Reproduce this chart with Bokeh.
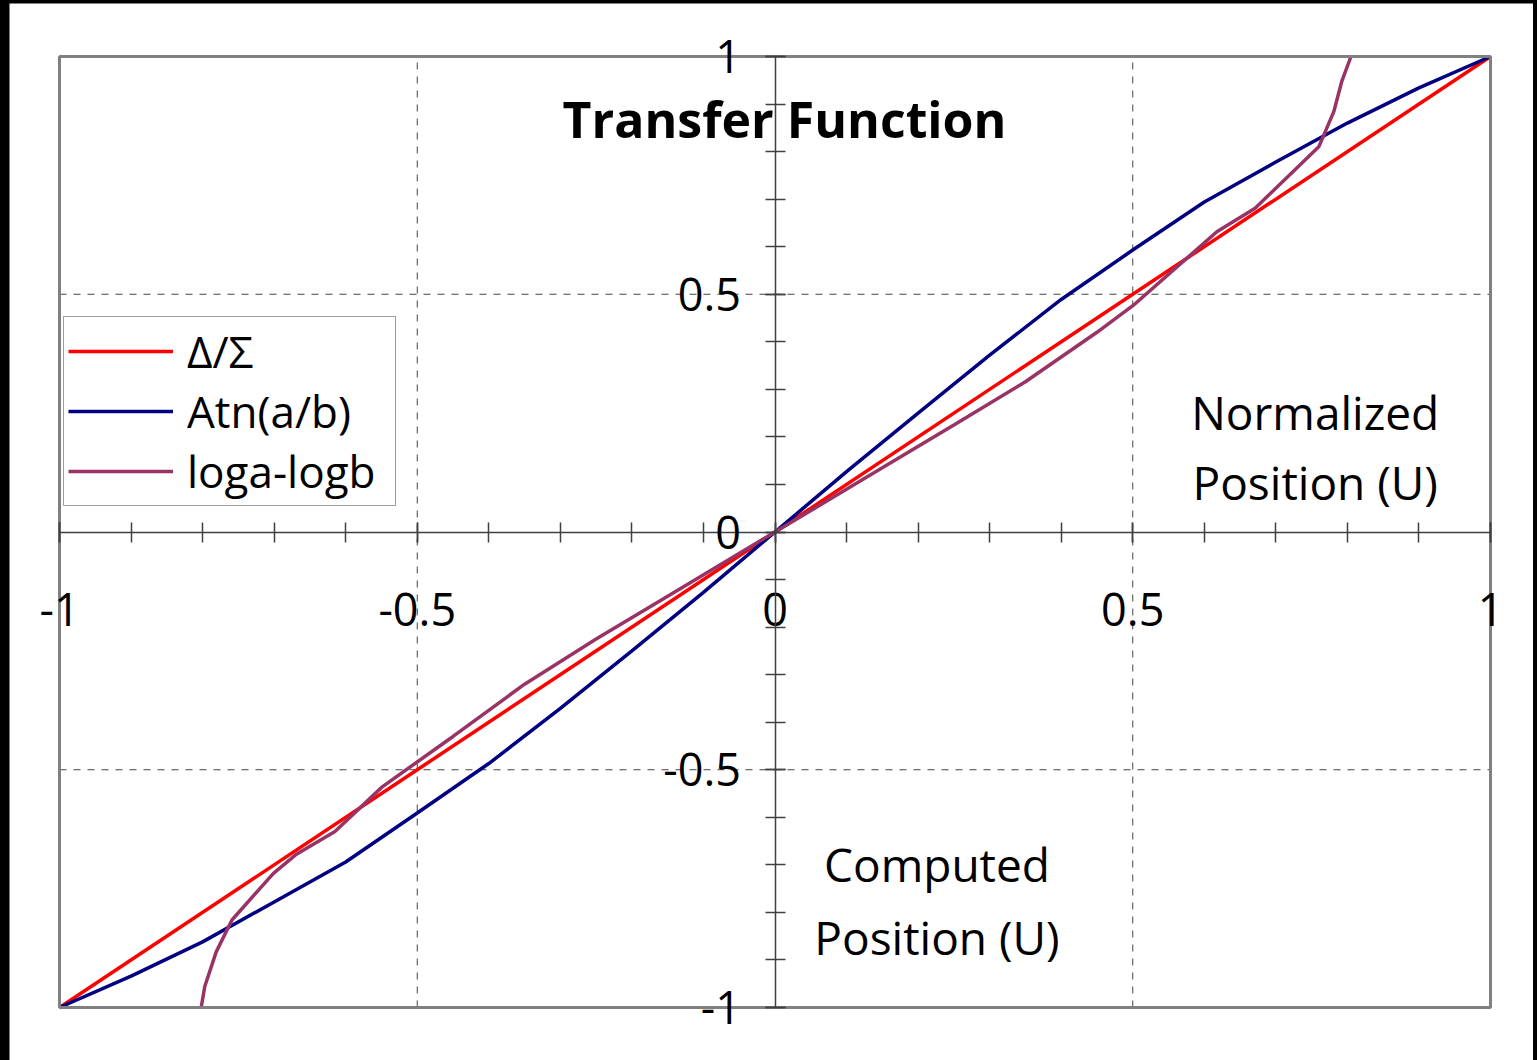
from bokeh.plotting import figure
from bokeh.models import (LinearAxis, FixedTicker, Label, Legend, LegendItem,
                          Range1d)
from bokeh.layouts import column
from bokeh.embed import file_html
from bokeh.resources import INLINE

# ---- data ----
delta_x = [-1.0, -0.5, 0.0, 0.5, 1.0]
delta_y = [-1.0, -0.5, 0.0, 0.5, 1.0]

atn_x = [-1.0, -0.9, -0.8, -0.7, -0.6, -0.5, -0.4, -0.3, -0.2, -0.1, 0.0,
         0.1, 0.2, 0.3, 0.4, 0.5, 0.6, 0.7, 0.8, 0.9, 1.0]
atn_y = [-1.0, -0.934, -0.862, -0.778, -0.694, -0.591, -0.487, -0.371, -0.250, -0.127, 0.0,
         0.127, 0.250, 0.372, 0.489, 0.593, 0.694, 0.778, 0.860, 0.934, 1.0]

log_x = [-0.802, -0.797, -0.781, -0.759, -0.701, -0.670, -0.615, -0.549, -0.45, -0.35,
         -0.25, -0.15, 0.0, 0.15, 0.25, 0.35, 0.45, 0.501, 0.618, 0.671, 0.760,
         0.781, 0.792, 0.805]
log_y = [-1.0, -0.956, -0.883, -0.816, -0.718, -0.679, -0.630, -0.536, -0.43, -0.32,
         -0.225, -0.135, 0.0, 0.135, 0.225, 0.316, 0.42, 0.477, 0.632, 0.681, 0.810,
         0.884, 0.947, 1.0]

series_names = ["Δ/Σ", "Atn(a/b)", "loga-logb"]

major_ticks = [-1.0, -0.5, 0.0, 0.5, 1.0]
major_tick_labels = ["-1", "-0.5", "0", "0.5", "1"]
minor_ticks = [-1.0, -0.9, -0.8, -0.7, -0.6, -0.5, -0.4, -0.3, -0.2, -0.1, 0.0,
               0.1, 0.2, 0.3, 0.4, 0.5, 0.6, 0.7, 0.8, 0.9, 1.0]
grid_ticks = [-0.5, 0.5]

FONT = "Open Sans"
AX = "#404040"
TICK_FS = "45px"
TXT_FS = "46px"

lo, hi = major_ticks[0], major_ticks[-1]

# The plotting frame is made a little larger than the [-1, 1] box so that the
# tick labels at the ends are not clipped; the visible box is drawn as a quad.
p = figure(width=1524, height=1057,
           x_range=Range1d(-1.0699, 1.0601), y_range=Range1d(-1.1115, 1.1115),
           output_backend="svg", toolbar_location=None,
           x_axis_location=None, y_axis_location=None,
           min_border=0, background_fill_color="white",
           border_fill_color="white")
p.outline_line_color = None
p.grid.visible = False

# dashed grid lines at +-0.5, limited to the plot box
n = len(grid_ticks)
p.segment(x0=grid_ticks, y0=[lo] * n, x1=grid_ticks, y1=[hi] * n,
          line_color="#444444", line_dash="7 7", line_width=1)
p.segment(x0=[lo] * n, y0=grid_ticks, x1=[hi] * n, y1=grid_ticks,
          line_color="#444444", line_dash="7 7", line_width=1)

overrides = {t: l for t, l in zip(major_ticks, major_tick_labels)}

def make_axis(standoff):
    return LinearAxis(fixed_location=0, bounds=(lo, hi),
                      ticker=FixedTicker(ticks=major_ticks, minor_ticks=minor_ticks),
                      axis_line_color=AX, axis_line_width=1.5,
                      major_tick_in=10, major_tick_out=10,
                      minor_tick_in=10, minor_tick_out=10,
                      major_tick_line_color=AX, minor_tick_line_color=AX,
                      major_tick_line_width=1.5, minor_tick_line_width=1.5,
                      major_label_standoff=standoff,
                      major_label_overrides=overrides,
                      major_label_text_font=FONT,
                      major_label_text_font_size=TICK_FS,
                      major_label_text_color="black")

xaxis = make_axis(51)
p.add_layout(xaxis, "below")
yaxis = make_axis(24)
p.add_layout(yaxis, "left")

r1 = p.line(delta_x, delta_y, line_color="#FF0000", line_width=3.5)
r2 = p.line(atn_x, atn_y, line_color="#000080", line_width=3.5)
r3 = p.line(log_x, log_y, line_color="#993366", line_width=3.5)

# visible plot-area border
p.quad(left=[lo], right=[hi], bottom=[lo], top=[hi], fill_color=None,
       line_color="#808080", line_width=3)

legend = Legend(items=[LegendItem(label=series_names[0], renderers=[r1]),
                       LegendItem(label=series_names[1], renderers=[r2]),
                       LegendItem(label=series_names[2], renderers=[r3])],
                location=(54, 554), label_text_font=FONT, label_text_font_size="44px",
                label_text_color="black",
                glyph_width=105, glyph_height=58, label_height=58, label_width=204,
                spacing=0, padding=4, label_standoff=14, margin=0,
                border_line_color=AX, border_line_width=1,
                background_fill_color="white", background_fill_alpha=1)
p.add_layout(legend)

def add_text(x, y, text, size, bold=False):
    p.add_layout(Label(x=x, y=y, text=text, text_align="center",
                       text_baseline="alphabetic", text_font=FONT,
                       text_font_size=size, text_color="black",
                       text_font_style="bold" if bold else "normal"))

add_text(0.0133, 0.869, "Transfer Function", "50px", bold=True)
add_text(0.755, 0.2525, "Normalized", TXT_FS)
add_text(0.755, 0.105, "Position (U)", TXT_FS)
add_text(0.2264, -0.698, "Computed", TXT_FS)
add_text(0.2264, -0.852, "Position (U)", TXT_FS)

layout = column(p, styles={"background-color": "black",
                           "padding": "3px 4px 0px 9px"})

open("out.html", "w").write(file_html(layout, INLINE))
